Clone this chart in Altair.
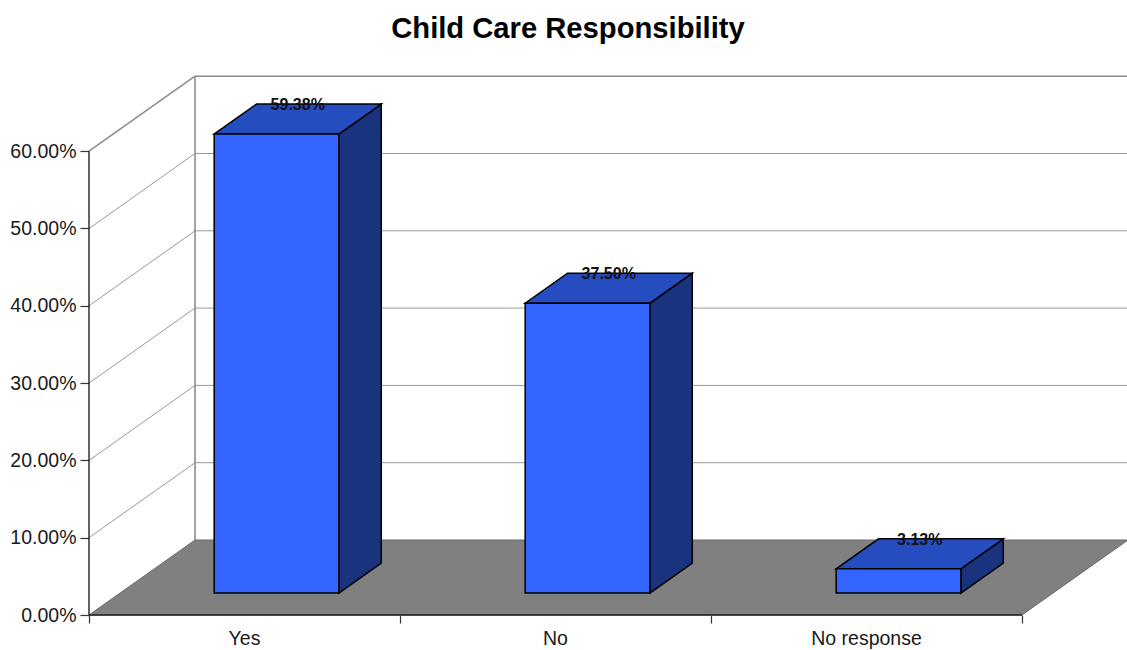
import altair as alt
import pandas as pd

categories = ["Yes", "No", "No response"]
shares = [59.38, 37.50, 3.13]
value_labels = ["59.38%", "37.50%", "3.13%"]
y_ticks = [0, 10, 20, 30, 40, 50, 60]
x_ticks = [0, 1, 2, 3]

# Oblique projection: x is measured in category widths, y in percentage points.
PX_PER_CAT = 311.0
PX_PER_PCT = 7.73
WALL_DX = 106 / PX_PER_CAT
WALL_DY = 75 / PX_PER_PCT
X_MAX = 1038 / PX_PER_CAT
Y_MAX = 540 / PX_PER_PCT

BAR_OFFSET = 0.3026
BAR_WIDTH = 0.401
BAR_D0 = 0.293   # depth of the bar front, as a fraction of the floor depth
BAR_D = 0.40     # depth of the bar itself

FONT = "Liberation Sans"
x_scale = alt.Scale(domain=[0, X_MAX], nice=False, zero=False)
y_scale = alt.Scale(domain=[0, Y_MAX], nice=False, zero=False)

# The axes carry only ticks and tick labels; their lines are drawn with the frame.
x_axis = alt.Axis(
    values=x_ticks, labels=False, domain=False, grid=False, title=None,
    tickSize=8, tickColor="#333333", tickWidth=1.2,
)
y_axis = alt.Axis(
    values=y_ticks, domain=False, grid=False, title=None, tickSize=9,
    tickColor="#333333", tickWidth=1.2, labelPadding=4, labelFont=FONT,
    labelFontSize=19.5, labelColor="#1a1a1a",
    labelExpr="format(datum.value, '.2f') + '%'",
)
X = alt.X("x:Q", scale=x_scale, axis=x_axis)
Y = alt.Y("y:Q", scale=y_scale, axis=y_axis)


def parallelogram(x0, x1, y0, dx, dy, key):
    """Sample the lower and upper edges of a sheared rectangle for an area mark."""
    rows = []
    for x in (x0, x0 + dx, x1, x1 + dx):
        low = y0 + dy * max(0.0, (x - x1) / dx) if x > x1 else y0
        up = y0 + dy * min(1.0, (x - x0) / dx)
        rows.append({"x": x, "y": low, "y2": up, "key": key})
    return rows


def side_face(x1, y0, y1, dx, dy, key):
    return [
        {"x": x1, "y": y0, "y2": y1, "key": key},
        {"x": x1 + dx, "y": y0 + dy, "y2": y1 + dy, "key": key},
    ]


front_rows, top_rows, side_rows, label_rows = [], [], [], []
bar_dx = WALL_DX * BAR_D
bar_dy = WALL_DY * BAR_D
for i, (cat, val, lab) in enumerate(zip(categories, shares, value_labels)):
    x0 = i + BAR_OFFSET + WALL_DX * BAR_D0
    x1 = x0 + BAR_WIDTH
    base = WALL_DY * BAR_D0
    top = base + val
    front_rows.append({"x": x0, "x2": x1, "y": base, "y2": top})
    top_rows += parallelogram(x0, x1, top, bar_dx, bar_dy, cat)
    side_rows += side_face(x1, base, top, bar_dx, bar_dy, cat)
    label_rows.append({"x": (x0 + x1) / 2 + bar_dx / 2, "y": top + bar_dy, "t": lab})

floor_rows = parallelogram(0, len(categories), 0, WALL_DX, WALL_DY, "floor")

side_grid = [{"x": 0, "x2": WALL_DX, "y": v, "y2": v + WALL_DY} for v in y_ticks[1:-1]]
back_grid = [{"x": WALL_DX, "x2": X_MAX, "y": v + WALL_DY, "y2": v + WALL_DY} for v in y_ticks[1:-1]]
wall_frame = [
    {"x": 0, "x2": WALL_DX, "y": 60, "y2": 60 + WALL_DY},
    {"x": WALL_DX, "x2": X_MAX, "y": 60 + WALL_DY, "y2": 60 + WALL_DY},
    {"x": WALL_DX, "x2": WALL_DX, "y": WALL_DY, "y2": 60 + WALL_DY},
]
axis_lines = [
    {"x": 0, "x2": 0, "y": 0, "y2": 60},
    {"x": 0, "x2": len(categories), "y": 0, "y2": 0},
]
cat_rows = [{"x": i + 0.5, "y": 0, "t": c} for i, c in enumerate(categories)]


def rules(rows, color, width):
    return alt.Chart(pd.DataFrame(rows)).mark_rule(color=color, strokeWidth=width).encode(
        x=X, x2="x2:Q", y=Y, y2="y2:Q"
    )


floor = alt.Chart(pd.DataFrame(floor_rows)).mark_area(
    color="#808080", stroke="#6a6a6a", strokeWidth=1
).encode(x=X, y=Y, y2="y2:Q")

fronts = alt.Chart(pd.DataFrame(front_rows)).mark_rect(
    color="#3366FF", stroke="#000000", strokeWidth=1.5
).encode(x=X, x2="x2:Q", y=Y, y2="y2:Q")

tops = alt.Chart(pd.DataFrame(top_rows)).mark_area(
    color="#264DBF", stroke="#000000", strokeWidth=1.5
).encode(x=X, y=Y, y2="y2:Q", detail="key:N")

sides = alt.Chart(pd.DataFrame(side_rows)).mark_area(
    color="#1A337F", stroke="#000000", strokeWidth=1.5
).encode(x=X, y=Y, y2="y2:Q", detail="key:N")

value_text = alt.Chart(pd.DataFrame(label_rows)).mark_text(
    font=FONT, fontSize=16, fontWeight="bold", color="#111111", baseline="middle", dy=1
).encode(x=X, y=Y, text="t:N")

cat_text = alt.Chart(pd.DataFrame(cat_rows)).mark_text(
    font=FONT, fontSize=19.5, color="#1a1a1a", baseline="middle", dy=24
).encode(x=X, y=Y, text="t:N")

chart = alt.layer(
    rules(side_grid, "#999999", 1),
    rules(back_grid, "#999999", 1),
    rules(wall_frame, "#8c8c8c", 1.6),
    floor,
    rules(axis_lines, "#222222", 1.4),
    sides,
    tops,
    fronts,
    value_text,
    cat_text,
).properties(
    width=1038,
    height=540,
    title=alt.TitleParams(
        "Child Care Responsibility", font=FONT, fontSize=29.2, fontWeight="bold",
        color="#000000", anchor="middle", dx=-40, offset=31,
    ),
    autosize=alt.AutoSizeParams(type="none"),
    padding={"left": 89, "top": 75, "right": 0, "bottom": 35},
).configure_view(stroke=None)

chart.save("out.html", embed_options={"renderer": "svg", "actions": False})
